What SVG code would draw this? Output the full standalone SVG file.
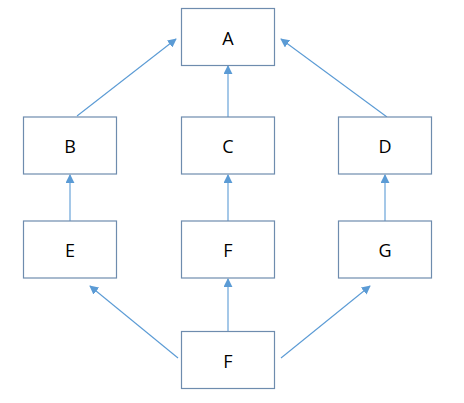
<svg xmlns="http://www.w3.org/2000/svg" width="464" height="403" viewBox="0 0 464 403">
<style>
.box{fill:#fff;stroke:#6e8cae;stroke-width:1.2}
.lbl{font-family:"Open Sans","Liberation Sans",sans-serif;font-size:18px;fill:#000;text-anchor:middle;dominant-baseline:central}
.edge{stroke:#5b9bd5;stroke-width:1.1;fill:none;marker-end:url(#ah)}
</style>
<defs>
<marker id="ah" viewBox="0 0 10 10" refX="9" refY="5" markerWidth="9" markerHeight="9" markerUnits="userSpaceOnUse" orient="auto">
<path d="M0,0 L10,5 L0,10 z" fill="#5b9bd5"/>
</marker>
</defs>
<rect width="464" height="403" fill="#fff"/>
<g id="connectors">
<line class="edge" x1="77" y1="116" x2="176" y2="39"/>
<line class="edge" x1="228" y1="117" x2="228" y2="66"/>
<line class="edge" x1="387" y1="117" x2="281" y2="39"/>
<line class="edge" x1="70" y1="221" x2="70" y2="175"/>
<line class="edge" x1="228" y1="221" x2="228" y2="175"/>
<line class="edge" x1="385" y1="221" x2="385" y2="175"/>
<line class="edge" x1="178" y1="358" x2="90" y2="286"/>
<line class="edge" x1="228" y1="331" x2="228" y2="279"/>
<line class="edge" x1="281" y1="358" x2="370" y2="286"/>
</g>
<g id="A"><rect class="box" x="181.5" y="8.5" width="93" height="57"/><text class="lbl" x="228" y="38">A</text></g>
<g id="B"><rect class="box" x="23.5" y="117" width="93" height="57"/><text class="lbl" x="70" y="146">B</text></g>
<g id="C"><rect class="box" x="181.5" y="117" width="93" height="57"/><text class="lbl" x="228" y="146">C</text></g>
<g id="D"><rect class="box" x="338.5" y="117" width="93" height="57"/><text class="lbl" x="385" y="146">D</text></g>
<g id="E"><rect class="box" x="23.5" y="221" width="93" height="57"/><text class="lbl" x="70" y="250">E</text></g>
<g id="F1"><rect class="box" x="181.5" y="221" width="93" height="57"/><text class="lbl" x="228" y="250">F</text></g>
<g id="G"><rect class="box" x="338.5" y="221" width="93" height="57"/><text class="lbl" x="385" y="250">G</text></g>
<g id="F2"><rect class="box" x="181.5" y="331.5" width="93" height="57"/><text class="lbl" x="228" y="361">F</text></g>
</svg>
